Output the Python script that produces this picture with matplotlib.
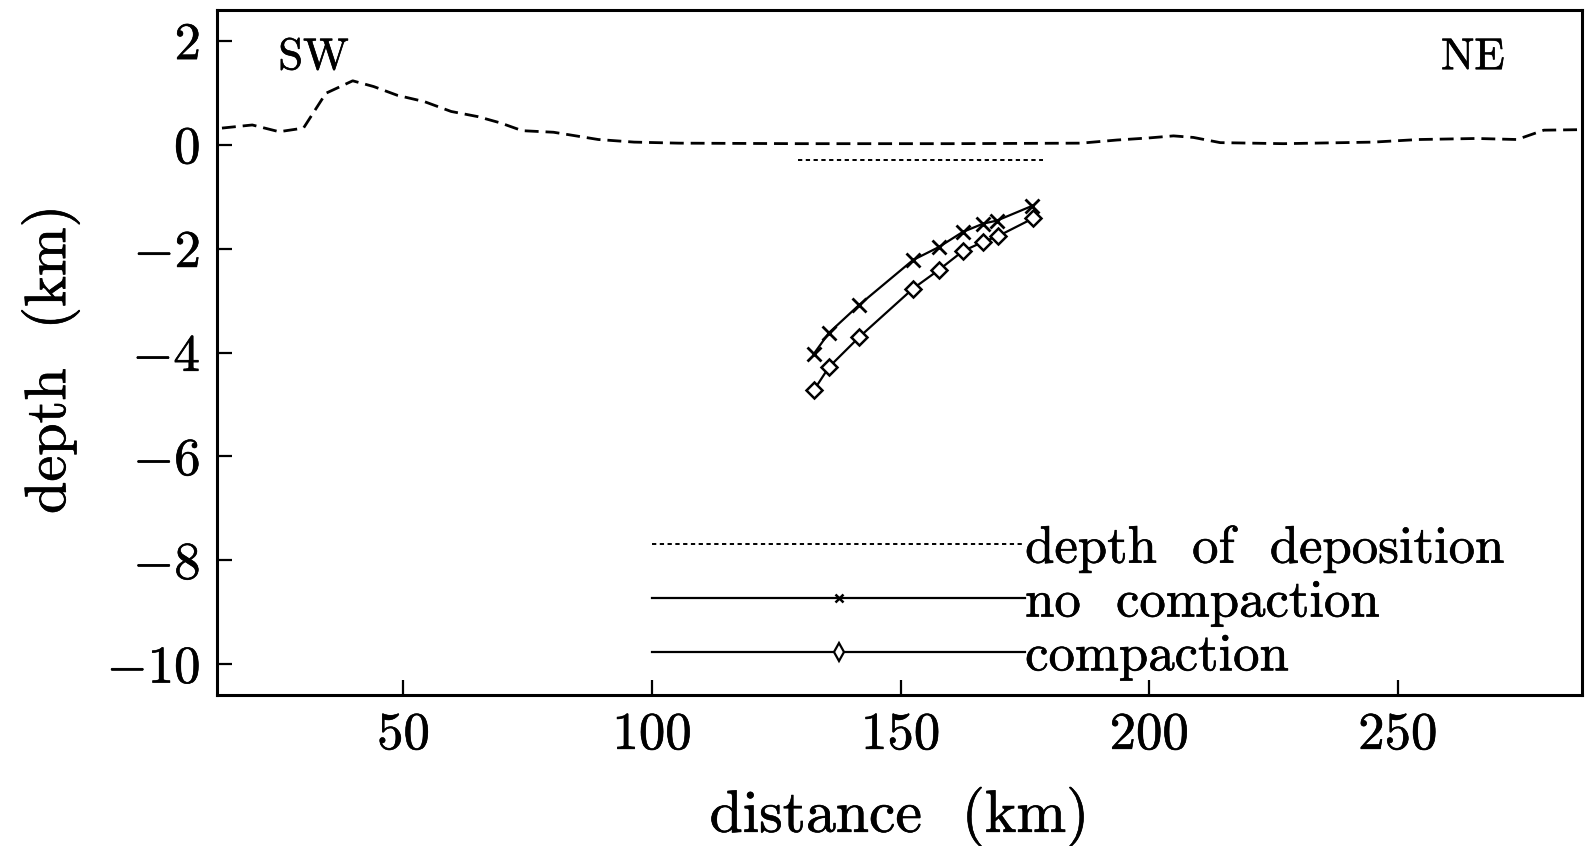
import numpy as np
import matplotlib
matplotlib.use('Agg')
import matplotlib.pyplot as plt
import matplotlib.patheffects as pe
from matplotlib.lines import Line2D

# topography profile (dashed), km / km
profile_x = [13.5, 19.6, 25.0, 29.9, 34.4, 39.8, 44.0, 48.8, 54.2, 59.6, 65.0, 69.5,
             73.9, 80.2, 89.2, 96.4, 105.4, 130.0, 160.0, 186.3, 193.5, 199.9, 204.9,
             208.9, 214.3, 227.0, 245.1, 254.2, 265.9, 274.0, 279.4, 287.0]
profile_z = [0.32, 0.38, 0.25, 0.32, 0.99, 1.23, 1.12, 0.95, 0.83, 0.64, 0.54, 0.42,
             0.27, 0.24, 0.10, 0.05, 0.03, 0.02, 0.02, 0.03, 0.09, 0.13, 0.17,
             0.14, 0.04, 0.02, 0.05, 0.10, 0.12, 0.10, 0.28, 0.29]

# depth of deposition
depo_x = [129.3, 178.7]
depo_z = [-0.3, -0.3]

# burial paths
nocomp_x = [132.6, 135.6, 141.6, 152.5, 157.7, 162.5, 166.6, 169.4, 176.4]
nocomp_z = [-4.02, -3.62, -3.09, -2.22, -1.97, -1.68, -1.52, -1.46, -1.18]
comp_x = [132.6, 135.6, 141.6, 152.5, 157.7, 162.5, 166.6, 169.6, 176.6]
comp_z = [-4.72, -4.28, -3.71, -2.77, -2.41, -2.05, -1.87, -1.76, -1.42]

xticks = [50, 100, 150, 200, 250]
yticks = [2, 0, -2, -4, -6, -8, -10]

plt.rcParams['font.family'] = 'cmr10'
plt.rcParams['mathtext.fontset'] = 'cm'
plt.rcParams['axes.formatter.use_mathtext'] = True

bold = [pe.withStroke(linewidth=0.45, foreground='black')]

fig = plt.figure(figsize=(15.85, 8.46), dpi=100)
ax = fig.add_axes([0.1369, 0.178, 0.861, 0.810])

ax.plot(profile_x, profile_z, color='black', lw=2.0, dashes=(5, 2.5))
ax.plot(depo_x, depo_z, color='black', lw=1.4, dashes=(2.2, 1.8))
ax.plot(nocomp_x, nocomp_z, color='black', lw=1.6, marker='x', ms=10, mew=2.0)
ax.plot(comp_x, comp_z, color='black', lw=1.6, marker='D', ms=8, mew=1.8,
        mfc='white', mec='black')

ax.set_xlim(12.5, 287)
ax.set_ylim(-10.6, 2.59)
ax.set_xticks(xticks)
ax.set_yticks(yticks)
ax.tick_params(direction='in', length=11, width=1.6, labelsize=38, pad=12,
               top=False, right=False)
for s in ax.spines.values():
    s.set_linewidth(2.2)
for lbl in ax.get_xticklabels() + ax.get_yticklabels():
    lbl.set_path_effects(bold)

ax.set_xlabel('distance  (km)', fontsize=43, path_effects=bold)
ax.set_ylabel('depth  (km)', fontsize=42, path_effects=bold)
ax.xaxis.set_label_coords(0.5, -0.133)
ax.yaxis.set_label_coords(-0.101, 0.49)

ax.text(0.045, 0.93, 'SW', transform=ax.transAxes, fontsize=32, va='center',
        path_effects=bold)
ax.text(0.897, 0.93, 'NE', transform=ax.transAxes, fontsize=32, va='center',
        path_effects=bold)

handles = [
    Line2D([], [], color='black', lw=1.4, dashes=(2.2, 1.8)),
    Line2D([], [], color='black', lw=1.6, marker='x', ms=6, mew=1.8),
    Line2D([], [], color='black', lw=1.6, marker='d', ms=9, mew=1.6, mfc='white'),
]
labels = ['depth  of  deposition', 'no  compaction', 'compaction']
leg = ax.legend(handles, labels, loc='center left', bbox_to_anchor=(100, -8.81),
                bbox_transform=ax.transData, frameon=False, fontsize=38,
                handlelength=7.07, handletextpad=0.0, borderpad=0, borderaxespad=0,
                labelspacing=0.13, numpoints=1)
for t in leg.get_texts():
    t.set_path_effects(bold)

fig.savefig('out.png', dpi=100)
